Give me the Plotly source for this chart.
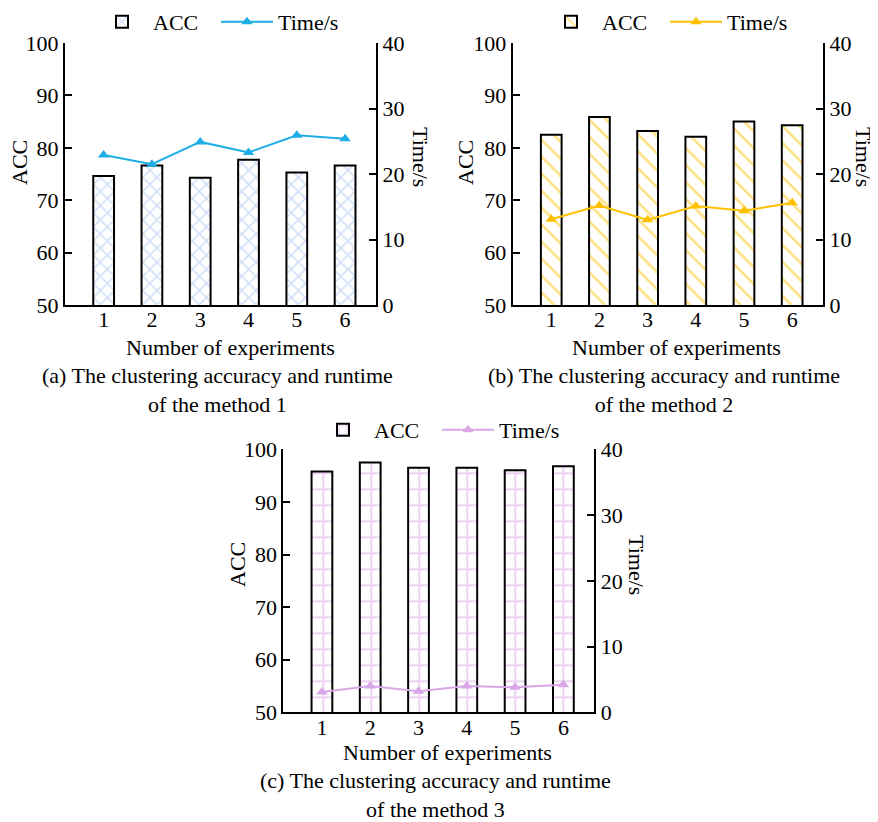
import plotly.graph_objects as go

# ---------------- data ----------------
experiments = [1, 2, 3, 4, 5, 6]
tick_labels = ["1", "2", "3", "4", "5", "6"]

acc_method1 = [74.6, 76.6, 74.3, 77.7, 75.3, 76.6]
time_method1 = [22.9, 21.5, 24.9, 23.3, 25.9, 25.4]

acc_method2 = [82.5, 85.9, 83.2, 82.1, 85.0, 84.3]
time_method2 = [13.1, 15.2, 13.0, 15.1, 14.4, 15.6]

acc_method3 = [95.8, 97.5, 96.5, 96.5, 96.0, 96.8]
time_method3 = [3.1, 4.0, 3.2, 4.0, 3.8, 4.2]

panel_captions = [
    "(a) The clustering accuracy and runtime<br>of the method 1",
    "(b) The clustering accuracy and runtime<br>of the method 2",
    "(c) The clustering accuracy and runtime<br>of the method 3",
]

# ---------------- style ----------------
FONT = "Liberation Serif, Times New Roman, serif"
FS = 22
OFF = 8  # page body margin
W, H = 878 - OFF, 822 - OFF

def px_x(p):
    return (p - OFF) / W

def px_y(p):
    return 1 - (p - OFF) / H

panels = [
    dict(acc=acc_method1, time=time_method1, shape="x", pcolor="#a4c2f0", psize=10, sol=0.3,
         lcolor="#1eaee6", xdom=(65, 376), ydom=(43, 305), xa="x", ya="y", ya2="y2",
         leg="legend", legx=216, legy=22, acc_tx=19, acc_y=163, time_tx=421, time_y=157,
         cap_x=217, num_x=231, num_y=347, cap_y=390),
    dict(acc=acc_method2, time=time_method2, shape="\\", pcolor="#ffc000", psize=12, sol=0.22,
         lcolor="#ffc000", xdom=(512.7, 823), ydom=(43, 305), xa="x2", ya="y3", ya2="y4",
         leg="legend2", legx=665, legy=22, acc_tx=465, acc_y=163, time_tx=864, time_y=157,
         cap_x=664, num_x=676, num_y=347, cap_y=390),
    dict(acc=acc_method3, time=time_method3, shape="+", pcolor="#d9a7e7", psize=16, sol=0.25,
         lcolor="#d9a7e7", xdom=(283.3, 594.3), ydom=(449.3, 712.3), xa="x3", ya="y5", ya2="y6",
         leg="legend3", legx=437, legy=430, acc_tx=237, acc_y=565, time_tx=637, time_y=565,
         cap_x=435, num_x=447, num_y=752, cap_y=795),
]

fig = go.Figure()
annotations = []
layout = dict(
    width=W, height=H,
    margin=dict(l=0, r=0, t=0, b=0, autoexpand=False),
    paper_bgcolor="white", plot_bgcolor="rgba(0,0,0,0)",
    font=dict(family=FONT, size=FS, color="black"),
    showlegend=True,
)

def axname(ref):
    return ref[0] + "axis" + ref[1:]

for p in panels:
    fig.add_trace(go.Bar(
        x=experiments, y=p["acc"], name="ACC", width=0.43,
        xaxis=p["xa"], yaxis=p["ya"], legend=p["leg"],
        marker=dict(color="white", line=dict(color="black", width=2),
                    pattern=dict(shape=p["shape"], fgcolor=p["pcolor"], bgcolor="white",
                                 size=p["psize"], solidity=p["sol"])),
    ))
    fig.add_trace(go.Scatter(
        x=experiments, y=p["time"], name="Time/s", mode="lines+markers",
        xaxis=p["xa"], yaxis=p["ya2"], legend=p["leg"],
        line=dict(color=p["lcolor"], width=2),
        marker=dict(symbol="triangle-up", size=10, color=p["lcolor"]),
    ))

    xd = [px_x(p["xdom"][0]), px_x(p["xdom"][1])]
    yd = [px_y(p["ydom"][1]), px_y(p["ydom"][0])]
    layout[axname(p["xa"])] = dict(
        domain=xd, anchor=p["ya"], range=[0.2, 6.64],
        tickmode="array", tickvals=experiments, ticktext=tick_labels,
        showline=True, linecolor="black", linewidth=2, ticks="",
        ticklabelstandoff=-6,
        showgrid=False, zeroline=False, fixedrange=True,
        tickfont=dict(family=FONT, size=FS, color="black"),
    )
    layout[axname(p["ya"])] = dict(
        domain=yd, anchor=p["xa"], range=[50, 100],
        tickvals=[50, 60, 70, 80, 90, 100],
        showline=True, linecolor="black", linewidth=2,
        ticks="inside", ticklen=7, tickwidth=2, tickcolor="black",
        showgrid=False, zeroline=False,
        tickfont=dict(family=FONT, size=FS, color="black"),
    )
    layout[axname(p["ya2"])] = dict(
        overlaying=p["ya"], anchor=p["xa"], side="right", range=[0, 40],
        tickvals=[0, 10, 20, 30, 40],
        showline=True, linecolor="black", linewidth=2,
        ticks="inside", ticklen=7, tickwidth=2, tickcolor="black",
        showgrid=False, zeroline=False,
        tickfont=dict(family=FONT, size=FS, color="black"),
    )
    layout[p["leg"]] = dict(
        orientation="h", x=px_x(p["legx"]), y=px_y(p["legy"]),
        xanchor="center", yanchor="middle", bgcolor="rgba(0,0,0,0)",
        font=dict(family=FONT, size=FS, color="black"), itemwidth=52,
        entrywidth=58, traceorder="normal",
    )
    annotations += [
        dict(text="ACC", x=px_x(p["acc_tx"]), y=px_y(p["acc_y"]), xref="paper", yref="paper",
             textangle=-90, showarrow=False, xanchor="center", yanchor="middle"),
        dict(text="Time/s", x=px_x(p["time_tx"]), y=px_y(p["time_y"]), xref="paper", yref="paper",
             textangle=90, showarrow=False, xanchor="center", yanchor="middle"),
        dict(text="Number of experiments", x=px_x(p["num_x"]), y=px_y(p["num_y"]),
             xref="paper", yref="paper", showarrow=False, xanchor="center", yanchor="middle"),
    ]

for p, cap in zip(panels, panel_captions):
    annotations.append(dict(text=cap, x=px_x(p["cap_x"]), y=px_y(p["cap_y"]),
                            xref="paper", yref="paper", showarrow=False,
                            xanchor="center", yanchor="middle", align="center"))

layout["annotations"] = annotations
fig.update_layout(**layout)
fig.write_html("out.html")
